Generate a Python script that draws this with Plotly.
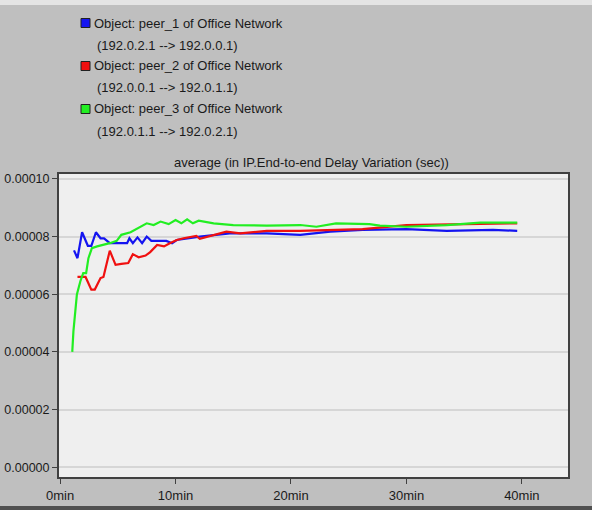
import plotly.graph_objects as go

# ---- data (minutes, seconds) ----
peer1_x = [1.2, 1.5, 1.9, 2.4, 2.7, 3.1, 3.5, 3.8, 4.3, 5.8, 6.0, 6.3, 6.7, 7.1, 7.5, 7.9,
           9.2, 9.7, 10.1, 12.1, 14.7, 17.9, 20.8, 23.4, 26.2, 30.0, 33.5, 37.5, 39.6]
peer1_y = [7.52e-5, 7.25e-5, 8.15e-5, 7.68e-5, 7.68e-5, 8.15e-5, 7.94e-5, 7.94e-5, 7.77e-5,
           7.77e-5, 7.94e-5, 7.77e-5, 7.97e-5, 7.77e-5, 8.00e-5, 7.85e-5, 7.85e-5, 7.77e-5,
           7.88e-5, 8.00e-5, 8.11e-5, 8.11e-5, 8.06e-5, 8.17e-5, 8.23e-5, 8.26e-5, 8.20e-5,
           8.23e-5, 8.20e-5]

peer2_x = [1.5, 2.2, 2.7, 3.0, 3.5, 3.75, 4.3, 4.8, 5.3, 5.9, 6.3, 6.8, 7.4, 7.8, 8.4, 9.0,
           9.5, 10.1, 10.7, 11.8, 12.1, 14.4, 15.6, 17.9, 20.8, 23.9, 26.2, 30.0, 33.5, 36.4, 39.6]
peer2_y = [6.60e-5, 6.60e-5, 6.16e-5, 6.16e-5, 6.56e-5, 6.60e-5, 7.51e-5, 7.02e-5, 7.05e-5,
           7.08e-5, 7.39e-5, 7.28e-5, 7.34e-5, 7.46e-5, 7.71e-5, 7.66e-5, 7.77e-5, 7.88e-5,
           7.94e-5, 8.02e-5, 7.92e-5, 8.17e-5, 8.11e-5, 8.20e-5, 8.20e-5, 8.23e-5, 8.26e-5,
           8.40e-5, 8.42e-5, 8.46e-5, 8.46e-5]

peer3_x = [1.05, 1.15, 1.45, 1.75, 2.0, 2.25, 2.45, 2.75, 3.2, 3.75, 4.3, 4.9, 5.3, 6.1, 6.8,
           7.5, 8.1, 8.7, 9.4, 10.0, 10.5, 11.0, 11.5, 12.0, 13.3, 15.0, 17.9, 20.8, 22.2, 23.9,
           26.8, 27.7, 30.0, 33.5, 36.4, 39.6]
peer3_y = [4.00e-5, 4.72e-5, 5.99e-5, 6.45e-5, 6.73e-5, 6.73e-5, 7.25e-5, 7.60e-5, 7.66e-5,
           7.71e-5, 7.77e-5, 7.85e-5, 8.06e-5, 8.15e-5, 8.31e-5, 8.46e-5, 8.40e-5, 8.52e-5,
           8.43e-5, 8.57e-5, 8.46e-5, 8.60e-5, 8.46e-5, 8.55e-5, 8.46e-5, 8.40e-5, 8.38e-5,
           8.40e-5, 8.34e-5, 8.46e-5, 8.43e-5, 8.38e-5, 8.34e-5, 8.40e-5, 8.48e-5, 8.48e-5]

legend_names = ["Object: peer_1 of Office Network", "Object: peer_2 of Office Network",
                "Object: peer_3 of Office Network"]
legend_routes = ["(192.0.2.1 --> 192.0.0.1)", "(192.0.0.1 --> 192.0.1.1)",
                 "(192.0.1.1 --> 192.0.2.1)"]
colors = ["#1414f0", "#f01010", "#22ee22"]
title_text = "average (in IP.End-to-end Delay Variation (sec))"
x_ticks = [0, 10, 20, 30, 40]
x_tick_labels = ["0min", "10min", "20min", "30min", "40min"]
y_ticks = [0, 2e-5, 4e-5, 6e-5, 8e-5, 1e-4]
y_tick_labels = ["0.00000", "0.00002", "0.00004", "0.00006", "0.00008", "0.00010"]

W, H = 592, 510
L, R, T, B = 59, 568, 174, 477

def px(x):
    return (x - L) / (R - L)

def py(y):
    return (B - y) / (B - T)

fig = go.Figure()
for xs, ys, c in [(peer1_x, peer1_y, colors[0]), (peer2_x, peer2_y, colors[1]),
                  (peer3_x, peer3_y, colors[2])]:
    fig.add_trace(go.Scatter(x=xs, y=ys, mode="lines", line=dict(color=c, width=2.2),
                             showlegend=False, hoverinfo="skip"))

font = "Liberation Sans, Arial, sans-serif"
annotations = []
shapes = []
for i, (n, r, c) in enumerate(zip(legend_names, legend_routes, colors)):
    y1 = 23 + i * 43
    y2 = y1 + 22
    annotations.append(dict(x=px(92), y=py(y1), xref="paper", yref="paper", text=n,
                            showarrow=False, xanchor="left", yanchor="middle",
                            font=dict(size=13, color="#1a1a1a", family=font)))
    annotations.append(dict(x=px(95), y=py(y2), xref="paper", yref="paper", text=r,
                            showarrow=False, xanchor="left", yanchor="middle",
                            font=dict(size=13, color="#1a1a1a", family=font)))
    shapes.append(dict(type="rect", xref="paper", yref="paper",
                       x0=px(81), x1=px(90), y0=py(y1 + 4.5), y1=py(y1 - 4.5),
                       fillcolor=c, line=dict(color="#202020", width=1)))

annotations.append(dict(x=px(311), y=py(162), xref="paper", yref="paper", text=title_text,
                        showarrow=False, xanchor="center", yanchor="middle",
                        font=dict(size=13, color="#1a1a1a", family=font)))

# frame decorations
shapes.append(dict(type="rect", xref="paper", yref="paper", x0=px(0), x1=px(W),
                   y0=py(5), y1=py(0), fillcolor="#e4e4e4", line=dict(width=0), layer="below"))
shapes.append(dict(type="rect", xref="paper", yref="paper", x0=px(0), x1=px(W),
                   y0=py(H), y1=py(506), fillcolor="#505050", line=dict(width=0), layer="below"))

fig.update_layout(
    width=W, height=H,
    margin=dict(l=L, r=W - R, t=T, b=H - B, autoexpand=False),
    paper_bgcolor="#bfbfbf",
    plot_bgcolor="#efefef",
    font=dict(family=font, size=13, color="#1a1a1a"),
    annotations=annotations,
    shapes=shapes,
    showlegend=False,
)
fig.update_xaxes(range=[-0.1, 44.0], tickvals=x_ticks, ticktext=x_tick_labels,
                 ticks="outside", ticklen=5, tickcolor="#404040", tickwidth=1,
                 showline=True, linecolor="#404040", linewidth=2, mirror=True,
                 showgrid=False, zeroline=False, tickfont=dict(size=13), automargin=False)
fig.update_yaxes(range=[-0.0000034, 0.0001017], tickvals=y_ticks, ticktext=y_tick_labels,
                 ticks="outside", ticklen=5, tickcolor="#404040", tickwidth=1,
                 showline=True, linecolor="#404040", linewidth=2, mirror=True,
                 showgrid=True, gridcolor="#d6d6d6", gridwidth=1.5, zeroline=False,
                 tickfont=dict(size=12.5), automargin=False, ticklabelstandoff=0)

fig.write_html("out.html", config={"displayModeBar": False},
               post_script="document.body.style.margin='0';document.body.style.overflow='hidden';")
